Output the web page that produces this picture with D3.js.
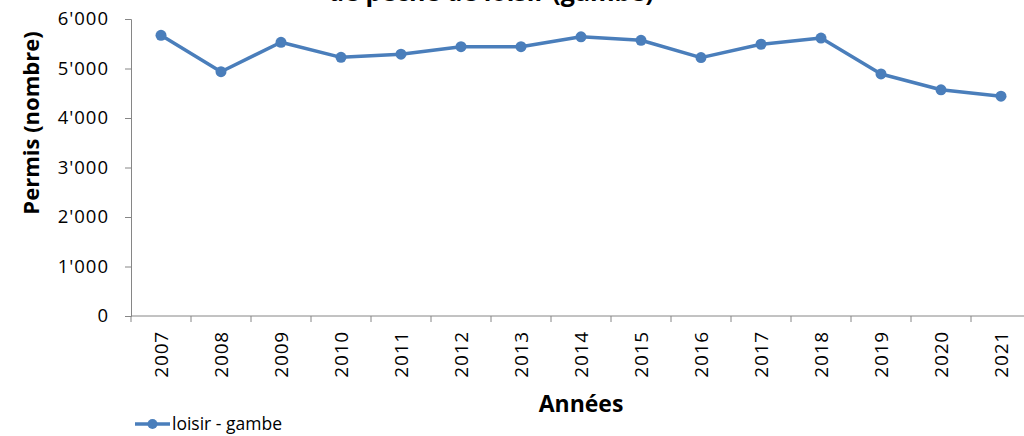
<!DOCTYPE html>
<html>
<head>
<meta charset="utf-8">
<script src="https://cdn.jsdelivr.net/npm/d3@7"></script>
<style>
  body { margin: 0; background: #fff; }
  text { font-family: "Open Sans", sans-serif; fill: #000; }
</style>
</head>
<body>
<div id="chart"></div>
<script>
// data
var years = ["2007","2008","2009","2010","2011","2012","2013","2014","2015","2016","2017","2018","2019","2020","2021"];
var gambe = [5670, 4935, 5530, 5225, 5290, 5440, 5440, 5640, 5570, 5220, 5490, 5615, 4890, 4570, 4440];
var yTicks = [0, 1000, 2000, 3000, 4000, 5000, 6000];
var seriesName = "loisir - gambe";
var lineColor = "#4a7ebb";

var width = 1024, height = 436;
var plotLeft = 131, plotRight = 1031, plotTop = 19, plotBottom = 316;

var svg = d3.select("#chart").append("svg")
  .attr("width", width)
  .attr("height", height);

var x = d3.scaleBand().domain(years).range([plotLeft, plotRight]);
var y = d3.scaleLinear().domain([0, 6000]).range([plotBottom, plotTop]);

var fmt = function(d) { return d3.format(",")(d).replace(/,/g, "'"); };

// y axis
var yAxis = svg.append("g")
  .attr("transform", "translate(" + plotLeft + ",0)")
  .call(d3.axisLeft(y).tickValues(yTicks).tickFormat(fmt).tickSize(6).tickPadding(16));
yAxis.select(".domain").attr("stroke", "#868686");
yAxis.selectAll(".tick line").attr("stroke", "#868686");
yAxis.selectAll(".tick text")
  .style("font-size", "18.5px")
  .style("letter-spacing", "1px")
  .style("font-family", "'Open Sans', sans-serif")
  .attr("fill", "#000");

// x axis (ticks on band edges)
var xg = svg.append("g").attr("transform", "translate(0," + plotBottom + ")");
xg.append("line").attr("x1", plotLeft).attr("x2", plotRight).attr("stroke", "#868686");
xg.selectAll(".xt").data(years.concat(["end"])).enter().append("line")
  .attr("x1", function(d, i) { return plotLeft + i * x.bandwidth(); })
  .attr("x2", function(d, i) { return plotLeft + i * x.bandwidth(); })
  .attr("y1", 0).attr("y2", 6)
  .attr("stroke", "#868686");
xg.selectAll(".xl").data(years).enter().append("text")
  .attr("transform", function(d) {
    return "translate(" + (x(d) + x.bandwidth() / 2) + ",15) rotate(-90)";
  })
  .attr("text-anchor", "end")
  .attr("dy", "0.35em")
  .style("font-size", "19px")
  .style("letter-spacing", "0.8px")
  .text(function(d) { return d; });

// line + markers
var line = d3.line()
  .x(function(d, i) { return x(years[i]) + x.bandwidth() / 2; })
  .y(function(d) { return y(d); });

svg.append("path")
  .datum(gambe)
  .attr("d", line)
  .attr("fill", "none")
  .attr("stroke", lineColor)
  .attr("stroke-width", 3.5)
  .attr("stroke-linejoin", "round");

svg.selectAll(".pt").data(gambe).enter().append("circle")
  .attr("cx", function(d, i) { return x(years[i]) + x.bandwidth() / 2; })
  .attr("cy", function(d) { return y(d); })
  .attr("r", 5.5)
  .attr("fill", lineColor);

// titles (first title line lies above the picture)
svg.append("text")
  .attr("x", 491).attr("y", 1)
  .attr("text-anchor", "middle")
  .style("font-size", "25px").style("font-weight", "bold")
  .text("de pêche de loisir (gambe)");

svg.append("text")
  .attr("transform", "translate(39,123) rotate(-90)")
  .attr("text-anchor", "middle")
  .style("font-size", "22px").style("font-weight", "bold")
  .text("Permis (nombre)");

svg.append("text")
  .attr("x", 581).attr("y", 412)
  .attr("text-anchor", "middle")
  .style("font-size", "23px").style("font-weight", "bold")
  .text("Années");

// legend
var lg = svg.append("g").attr("transform", "translate(135,424)");
lg.append("line").attr("x1", 0).attr("x2", 35).attr("stroke", lineColor).attr("stroke-width", 3.5);
lg.append("circle").attr("cx", 17.5).attr("r", 5).attr("fill", lineColor);
lg.append("text").attr("x", 37).attr("dy", "0.35em").style("font-size", "17.5px").text(seriesName);
</script>
</body>
</html>
